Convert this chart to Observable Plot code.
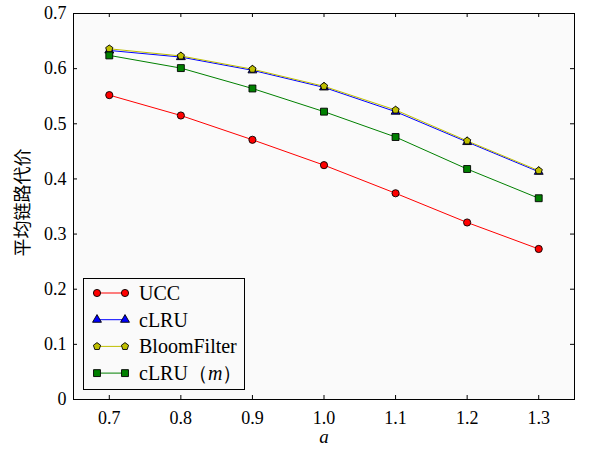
<!DOCTYPE html>
<html>
<head>
<meta charset="utf-8">
<script src="https://cdn.jsdelivr.net/npm/d3@7"></script>
<script src="https://cdn.jsdelivr.net/npm/@observablehq/plot@0.6"></script>
<style>
  body { margin: 0; background: #fff; }
  #chart svg { display: block; }
</style>
</head>
<body>
<div id="chart"></div>
<script>
// Zipf parameter a on the x axis
const alphas = [0.7, 0.8, 0.9, 1.0, 1.1, 1.2, 1.3];

// Average link cost for each caching scheme
const uccCost = [0.552, 0.515, 0.471, 0.425, 0.374, 0.321, 0.273];
const clruCost = [0.633, 0.621, 0.597, 0.566, 0.522, 0.467, 0.413];
const bloomCost = [0.636, 0.623, 0.599, 0.568, 0.525, 0.469, 0.415];
const clruMCost = [0.624, 0.601, 0.564, 0.522, 0.476, 0.418, 0.365];

const seriesNames = ["UCC", "cLRU", "BloomFilter", "cLRU（m）"];
const seriesValues = [uccCost, clruCost, bloomCost, clruMCost];
const seriesColors = ["#ff0000", "#0000ff", "#bfbf00", "#008000"];

const xTicks = [0.7, 0.8, 0.9, 1.0, 1.1, 1.2, 1.3];
const yTicks = [0, 0.1, 0.2, 0.3, 0.4, 0.5, 0.6, 0.7];
const yTitle = "平均链路代价";
const xTitle = "a";

// pentagon marker (area-based size, like d3's built-in symbols)
const pentagon = {
  draw(context, size) {
    const R = Math.sqrt(size / (2.5 * Math.sin(2 * Math.PI / 5)));
    for (let i = 0; i < 5; i++) {
      const t = -Math.PI / 2 + i * 2 * Math.PI / 5;
      const px = R * Math.cos(t), py = R * Math.sin(t);
      if (i === 0) context.moveTo(px, py); else context.lineTo(px, py);
    }
    context.closePath();
  }
};
const seriesSymbols = [d3.symbolCircle, d3.symbolTriangle, pentagon, d3.symbolSquare];
const seriesRadius = [3.6, 3.3, 3.3, 3.9];

const W = 589, H = 449;
const mL = 73, mT = 13, mR = 15, mB = 50;
const frameW = W - mL - mR, frameH = H - mT - mB;
const tickLen = 4;
const serif = "Liberation Serif";
const cjk = "Noto Sans CJK SC";

const rows = seriesNames.flatMap((name, k) =>
  alphas.map((a, i) => ({ a, v: seriesValues[k][i], k }))
);

const lineMarks = seriesNames.map((name, k) =>
  Plot.line(rows.filter(d => d.k === k), {
    x: "a", y: "v", stroke: seriesColors[k], strokeWidth: 1
  })
);
const dotMarks = seriesNames.map((name, k) =>
  Plot.dot(rows.filter(d => d.k === k), {
    x: "a", y: "v", symbol: () => seriesSymbols[k], r: seriesRadius[k],
    fill: seriesColors[k], stroke: "black", strokeWidth: 0.9
  })
);

const chart = Plot.plot({
  width: W, height: H,
  marginLeft: mL, marginTop: mT, marginRight: mR, marginBottom: mB,
  x: { domain: [0.65, 1.35] },
  y: { domain: [0, 0.7] },
  symbol: { type: "identity" },
  style: { background: "white", color: "black" },
  marks: [
    Plot.frame({ fill: "#fafafa", stroke: "none" }),
    // inward ticks on all four sides
    Plot.tickX(xTicks, { x: d => d, insetTop: frameH - tickLen, stroke: "black" }),
    Plot.tickX(xTicks, { x: d => d, insetBottom: frameH - tickLen, stroke: "black" }),
    Plot.tickY(yTicks, { y: d => d, insetRight: frameW - tickLen, stroke: "black" }),
    Plot.tickY(yTicks, { y: d => d, insetLeft: frameW - tickLen, stroke: "black" }),
    Plot.axisX(xTicks, {
      tickSize: 0, tickPadding: 12, tickFormat: d => d.toFixed(1), label: null,
      fontFamily: serif, fontSize: 18
    }),
    Plot.axisY(yTicks, {
      tickSize: 0, tickPadding: 7, tickFormat: d => d === 0 ? "0" : d.toFixed(1), label: null,
      fontFamily: serif, fontSize: 18
    }),
    ...lineMarks,
    ...dotMarks,
    Plot.frame({ stroke: "black", strokeWidth: 1 }),
    Plot.text([yTitle], {
      text: d => d, frameAnchor: "left", textAnchor: "middle", dx: -50, dy: -4, rotate: -90,
      fontFamily: cjk, fontSize: 18
    }),
    Plot.text([xTitle], {
      text: d => d, frameAnchor: "bottom", lineAnchor: "bottom", dy: 43, fontStyle: "italic",
      fontFamily: serif, fontSize: 19
    })
  ]
});

document.getElementById("chart").appendChild(chart);

// legend box in the lower-left corner of the plotting area
const svg = d3.select(chart);
const boxX = mL + 10, boxW = 161, boxH = 111;
const boxY = mT + frameH - 10 - boxH;
const lg = svg.append("g").attr("transform", `translate(${boxX},${boxY})`);
lg.append("rect")
  .attr("x", 0.5).attr("y", 0.5).attr("width", boxW).attr("height", boxH)
  .attr("fill", "#fafafa").attr("stroke", "black").attr("stroke-width", 1);

seriesNames.forEach((name, k) => {
  const cy = 15 + k * 26.7;
  const row = lg.append("g").attr("transform", `translate(0,${cy})`);
  row.append("line")
    .attr("x1", 14).attr("x2", 42).attr("y1", 0).attr("y2", 0)
    .attr("stroke", seriesColors[k]).attr("stroke-width", 1);
  const r = seriesRadius[k];
  const path = d3.symbol(seriesSymbols[k], r * r * Math.PI)();
  [14, 42].forEach(mx => {
    row.append("path").attr("d", path).attr("transform", `translate(${mx},0)`)
      .attr("fill", seriesColors[k]).attr("stroke", "black").attr("stroke-width", 0.9);
  });
  const t = row.append("text")
    .attr("x", 56).attr("y", 0).attr("dy", "0.34em")
    .attr("text-anchor", "start").attr("fill", "black")
    .style("font-family", serif).style("font-size", "20px");
  const m = name.match(/^(.*（)(.*)(）)$/);
  if (m) {
    t.append("tspan").text(m[1]);
    t.append("tspan").style("font-style", "italic").text(m[2]);
    t.append("tspan").text(m[3]);
  } else {
    t.text(name);
  }
});
</script>
</body>
</html>
